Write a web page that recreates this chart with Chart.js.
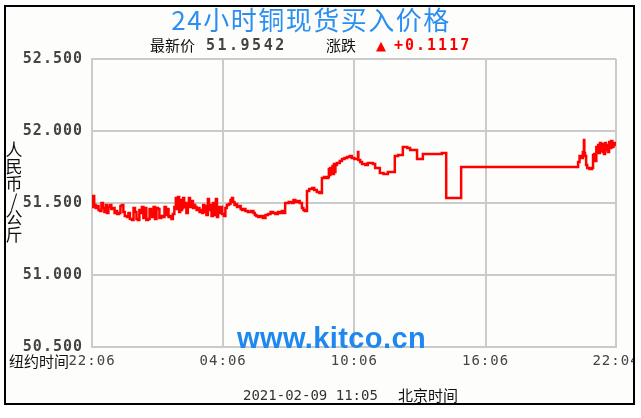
<!DOCTYPE html>
<html>
<head>
<meta charset="utf-8">
<script src="https://cdn.jsdelivr.net/npm/chart.js@4/dist/chart.umd.min.js"></script>
<style>
  body { margin: 0; background: #fff; }
  #page { position: relative; width: 641px; height: 418px; overflow: hidden; }
  #frame {
    position: absolute; left: 4px; top: 5px; width: 631px; height: 400px;
    box-sizing: border-box; border: 2px solid #000; background: #fdfdfb; overflow: hidden;
  }
  #frame canvas { position: absolute; left: -6px; top: -7px; }
  .txt { position: absolute; white-space: nowrap; }
  .cjk { font-family: "Noto Sans CJK SC", sans-serif; }
  .mono { font-family: "DejaVu Sans Mono", monospace; }
</style>
</head>
<body>
<div id="page">
  <div id="frame"><canvas id="chart" width="641" height="418"></canvas></div>

  <div class="txt cjk" style="left:0;width:622px;text-align:center;top:5px;font-size:26px;line-height:28px;color:#2a8ff0;letter-spacing:1.5px;">24小时铜现货买入价格</div>

  <div class="txt cjk" style="left:150px;top:36px;font-size:15px;line-height:18px;color:#111;">最新价</div>
  <div class="txt mono" style="left:206px;top:37px;font-size:15px;line-height:17px;font-weight:bold;color:#444;letter-spacing:2.5px;">51.9542</div>
  <div class="txt cjk" style="left:326px;top:36px;font-size:15px;line-height:18px;color:#111;">涨跌</div>
  <div class="txt" style="left:376px;top:37px;font-size:13px;line-height:17px;color:#f00;font-family:'DejaVu Sans';">▲</div>
  <div class="txt mono" style="left:394px;top:37px;font-size:15px;line-height:17px;font-weight:bold;color:#f00;letter-spacing:2px;">+0.1117</div>

  <div class="txt cjk" style="left:5px;top:140px;width:18px;font-size:17px;line-height:17px;color:#111;text-align:center;white-space:normal;">人<br>民<br>币<br>/<br>公<br>斤</div>

  <div class="txt cjk" style="left:9px;top:352px;font-size:15px;line-height:18px;color:#111;">纽约时间</div>

  <div class="txt" style="left:237px;top:323px;font-size:29px;line-height:31px;font-weight:bold;color:#1e88f0;font-family:'Liberation Sans',Arial,sans-serif;letter-spacing:0.4px;">www.kitco.cn</div>

  <div class="txt mono" style="left:243px;top:387px;font-size:14px;line-height:17px;color:#333;">2021-02-09 11:05</div>
  <div class="txt cjk" style="left:398px;top:386px;font-size:15px;line-height:18px;color:#111;">北京时间</div>
</div>

<script>
// minutes after 22:06 New York time
const minutes = [
  0, 3, 6, 10, 14, 18, 22, 26, 30, 34, 38, 41, 45, 49, 53, 58, 62, 66, 69, 74,
  78, 82, 86, 90, 96, 100, 104, 110, 114, 118, 122, 126, 130, 134, 137, 141, 145, 149, 154, 158,
  162, 165, 169, 173, 177, 181, 185, 190, 195, 199, 203, 206, 210, 214, 218, 222, 226, 230, 233, 236,
  239, 242, 245, 247, 250, 253, 255, 259, 263, 266, 269, 274, 277, 280, 283, 287, 291, 295, 299, 302,
  305, 308, 310, 314, 318, 321, 324, 328, 332, 336, 340, 343, 346, 350, 354, 357, 362, 366, 370, 375,
  380, 384, 387, 391, 395, 398, 403, 408, 412, 416, 421, 428, 436, 443, 447, 451, 456, 462, 469, 476,
  483, 490, 497, 503, 510, 515, 521, 525, 530, 540, 548, 553, 558, 565, 570, 576, 580, 584, 590, 596,
  604, 610, 617, 624, 631, 637, 643, 648, 650, 652, 654, 656, 658, 660, 662, 664, 666, 668, 672, 680,
  686, 693, 700, 707, 713, 720, 727, 730, 731, 736, 741, 750, 757, 765, 771, 777, 785, 790, 800, 812,
  822, 831, 840, 853, 865, 873, 885, 892, 900, 908, 930, 950, 960, 969, 972, 1010, 1013, 1331, 1334, 1338,
  1342, 1347, 1350, 1351, 1353, 1356, 1359, 1365, 1372, 1375, 1378, 1381, 1384, 1386, 1389, 1391, 1394, 1397, 1400, 1402,
  1405, 1408, 1410, 1413, 1416, 1419, 1422, 1425, 1428, 1431, 1435, 1438
];
const prices = [
  51.472, 51.549, 51.486, 51.465, 51.479, 51.451, 51.444, 51.500, 51.465, 51.438, 51.486, 51.431, 51.472, 51.486, 51.458, 51.465, 51.431, 51.444, 51.424, 51.431,
  51.479, 51.486, 51.438, 51.410, 51.403, 51.431, 51.389, 51.382, 51.465, 51.438, 51.389, 51.382, 51.451, 51.431, 51.472, 51.396, 51.465, 51.382, 51.389, 51.458,
  51.431, 51.403, 51.472, 51.389, 51.465, 51.458, 51.396, 51.410, 51.403, 51.472, 51.417, 51.458, 51.403, 51.410, 51.389, 51.424, 51.472, 51.535, 51.458, 51.542,
  51.438, 51.521, 51.451, 51.465, 51.535, 51.472, 51.500, 51.431, 51.479, 51.535, 51.472, 51.514, 51.465, 51.486, 51.472, 51.451, 51.465, 51.438, 51.451, 51.431,
  51.486, 51.438, 51.479, 51.417, 51.528, 51.451, 51.486, 51.410, 51.500, 51.417, 51.528, 51.403, 51.472, 51.431, 51.472, 51.424, 51.410, 51.465, 51.486, 51.493,
  51.521, 51.535, 51.507, 51.486, 51.493, 51.472, 51.479, 51.458, 51.451, 51.458, 51.444, 51.438, 51.444, 51.431, 51.417, 51.410, 51.403, 51.410, 51.396, 51.417,
  51.424, 51.438, 51.431, 51.424, 51.438, 51.431, 51.444, 51.431, 51.500, 51.507, 51.500, 51.521, 51.507, 51.514, 51.500, 51.465, 51.451, 51.444, 51.583, 51.597,
  51.604, 51.590, 51.576, 51.569, 51.674, 51.681, 51.674, 51.681, 51.736, 51.694, 51.743, 51.701, 51.722, 51.757, 51.701, 51.771, 51.715, 51.764, 51.778, 51.792,
  51.806, 51.813, 51.819, 51.826, 51.813, 51.806, 51.806, 51.854, 51.799, 51.785, 51.771, 51.764, 51.778, 51.778, 51.771, 51.743, 51.743, 51.708, 51.701, 51.715,
  51.715, 51.826, 51.833, 51.889, 51.882, 51.868, 51.868, 51.806, 51.806, 51.840, 51.840, 51.840, 51.847, 51.847, 51.535, 51.535, 51.750, 51.750, 51.785, 51.826,
  51.813, 51.854, 51.938, 51.847, 51.826, 51.764, 51.743, 51.736, 51.743, 51.833, 51.840, 51.792, 51.889, 51.854, 51.903, 51.847, 51.917, 51.861, 51.910, 51.854,
  51.840, 51.917, 51.868, 51.903, 51.854, 51.924, 51.882, 51.931, 51.889, 51.917, 51.903, 51.917
];

const tickMinutes = [0, 360, 720, 1080, 1438];
const timeLabels = ['22:06', '04:06', '10:06', '16:06', '22:04'];

const gridColor = '#cbcbcb';

const spacing = {
  id: 'spacing',
  beforeDraw(chart) {
    chart.ctx.letterSpacing = '1px';
  },
};

new Chart(document.getElementById('chart'), {
  type: 'line',
  data: {
    datasets: [{
      data: minutes.map((m, i) => ({ x: m, y: prices[i] })),
      borderColor: '#ff0000',
      borderWidth: 2.5,
      pointRadius: 0,
      stepped: true,
      fill: false,
    }],
  },
  options: {
    responsive: false,
    animation: false,
    events: [],
    layout: { padding: { left: 0, top: 59, right: 25, bottom: 0 } },
    plugins: { legend: { display: false }, tooltip: { enabled: false } },
    scales: {
      x: {
        type: 'linear',
        min: 0,
        max: 1438,
        afterBuildTicks: (s) => { s.ticks = tickMinutes.map((v) => ({ value: v })); },
        afterFit: (s) => { s.paddingLeft = 0; s.paddingRight = 0; s.height = 71; },
        ticks: {
          callback: (v, i) => timeLabels[i],
          font: { family: 'DejaVu Sans Mono', size: 14 },
          color: '#444',
          padding: 6,
          maxRotation: 0,
          autoSkip: false,
        },
        grid: { color: gridColor, lineWidth: 2, drawTicks: false },
        border: { color: gridColor, width: 2 },
      },
      y: {
        min: 50.5,
        max: 52.5,
        afterFit: (s) => { s.width = 92; s.paddingTop = 0; s.paddingBottom = 0; },
        ticks: {
          stepSize: 0.5,
          callback: (v) => v.toFixed(3),
          font: { family: 'DejaVu Sans Mono', size: 15, weight: 'bold' },
          color: '#454545',
          padding: 9,
        },
        grid: { color: gridColor, lineWidth: 2, drawTicks: false },
        border: { color: gridColor, width: 2 },
      },
    },
  },
  plugins: [spacing],
});
</script>
</body>
</html>
